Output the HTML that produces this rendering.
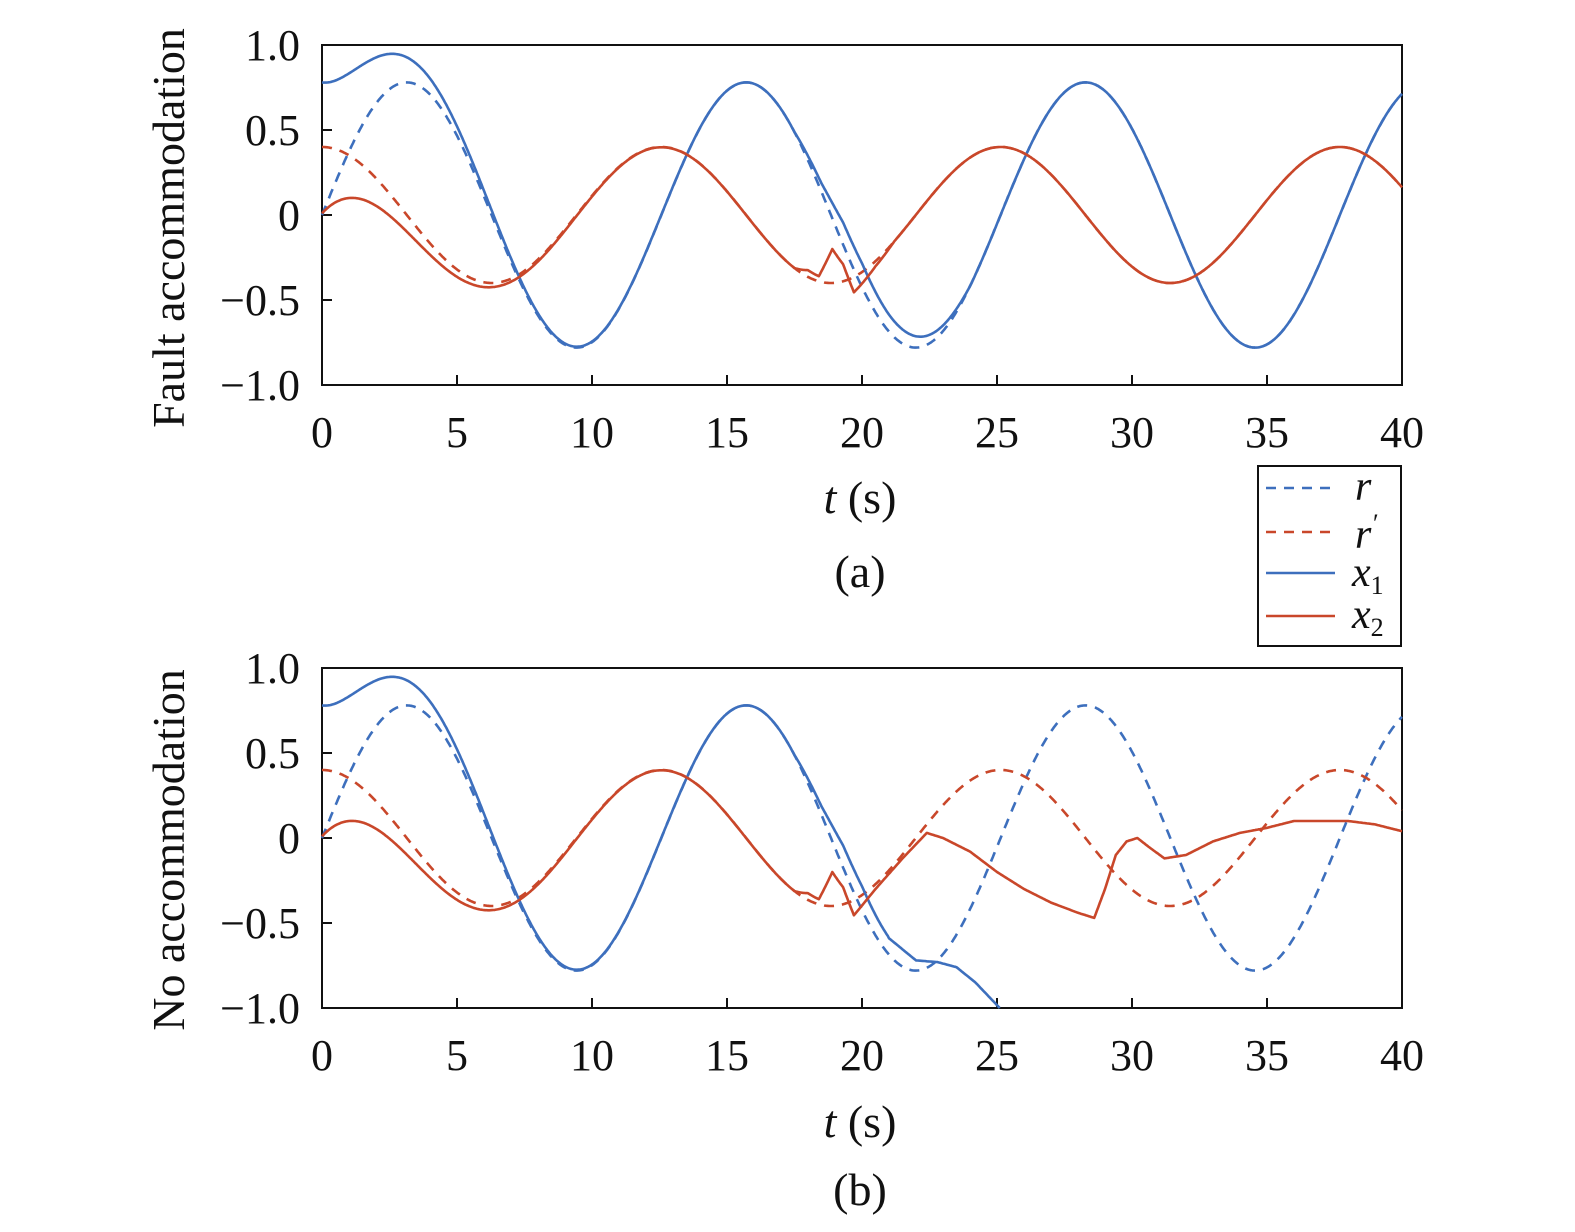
<!DOCTYPE html>
<html><head><meta charset="utf-8"><style>
html,body{margin:0;padding:0;background:#fff;}
svg{display:block;}
svg text{font-family:"Liberation Serif","Times New Roman",serif;fill:#111;}
</style></head><body>
<svg id="s" width="1575" height="1232" viewBox="0 0 1575 1232" xmlns="http://www.w3.org/2000/svg" font-family="Liberation Serif, serif">
<rect x="322" y="45" width="1080" height="340" fill="none" stroke="#111" stroke-width="2"/>
<rect x="322" y="668" width="1080" height="340" fill="none" stroke="#111" stroke-width="2"/>
<g id="ticks"></g>
<g id="curves"></g>
<g font-size="44">
<text x="300" y="60" text-anchor="end">1.0</text>
<text x="300" y="145" text-anchor="end">0.5</text>
<text x="300" y="230" text-anchor="end">0</text>
<text x="300" y="315" text-anchor="end">−0.5</text>
<text x="300" y="400" text-anchor="end">−1.0</text>
<text x="300" y="683" text-anchor="end">1.0</text>
<text x="300" y="768" text-anchor="end">0.5</text>
<text x="300" y="853" text-anchor="end">0</text>
<text x="300" y="938" text-anchor="end">−0.5</text>
<text x="300" y="1023" text-anchor="end">−1.0</text>
</g>
<g font-size="44" text-anchor="middle" id="xl"></g>
<g font-size="46" text-anchor="middle">
<text x="860" y="513"><tspan font-style="italic">t</tspan> (s)</text>
<text x="860" y="587">(a)</text>
<text x="860" y="1137"><tspan font-style="italic">t</tspan> (s)</text>
<text x="860" y="1205">(b)</text>
<text transform="translate(184,228) rotate(-90)">Fault accommodation</text>
<text transform="translate(184,850) rotate(-90)">No accommodation</text>
</g>
<rect x="1258" y="466" width="143" height="180" fill="#fff" stroke="#111" stroke-width="2"/>
<line x1="1266" y1="488" x2="1335" y2="488" stroke="#3d6fbd" stroke-width="2.5" stroke-dasharray="10,8"/>
<line x1="1266" y1="532" x2="1335" y2="532" stroke="#c9472a" stroke-width="2.5" stroke-dasharray="10,8"/>
<line x1="1266" y1="573" x2="1335" y2="573" stroke="#3d6fbd" stroke-width="2.5"/>
<line x1="1266" y1="616" x2="1335" y2="616" stroke="#c9472a" stroke-width="2.5"/>
<g font-size="42" font-style="italic">
<text x="1355" y="500">r</text>
<text x="1355" y="548">r<tspan font-size="26" dy="-16">′</tspan></text>
<text x="1352" y="586">x<tspan font-size="26" dy="8" font-style="normal">1</tspan></text>
<text x="1352" y="628">x<tspan font-size="26" dy="8" font-style="normal">2</tspan></text>
</g>
</svg>
<script>
var NS="http://www.w3.org/2000/svg";
function el(tag,a,p){var e=document.createElementNS(NS,tag);for(var k in a)e.setAttribute(k,a[k]);p.appendChild(e);return e;}
var tk=document.getElementById('ticks'),xl=document.getElementById('xl'),cv=document.getElementById('curves');
[[45,385],[668,1008]].forEach(function(b,i){
 for(var t=5;t<40;t+=5){var x=322+t*27;el('line',{x1:x,y1:b[1],x2:x,y2:b[1]-10,stroke:'#111','stroke-width':2},tk);}
 for(var v=-0.5;v<=0.5;v+=0.5){var y=(b[0]+b[1])/2-v*170;el('line',{x1:322,y1:y,x2:332,y2:y,stroke:'#111','stroke-width':2},tk);}
 for(var t=0;t<=40;t+=5){var tx=el('text',{x:322+t*27,y:b[1]+62},xl);tx.textContent=t;}
});
function lerp(k,t){if(t<=k[0][0])return k[0][1];for(var i=1;i<k.length;i++){if(t<=k[i][0]){var a=k[i-1],b=k[i];return a[1]+(b[1]-a[1])*(t-a[0])/(b[0]-a[0]);}}return k[k.length-1][1];}
var d1=[[17.5,0],[18.5,0.05],[19.3,0.13],[20,0.14],[21,0.1],[22.5,0.05],[24,0]];
var d2=[[17.5,0],[18.0,0.04],[18.4,0.03],[18.9,0.2],[19.3,0.1],[19.7,-0.09],[20.5,-0.03],[21.2,0]];
function r(t){return 0.78*Math.sin(0.5*t);}
function rp(t){return 0.4*Math.cos(0.5*t);}
function x1(t){return r(t)+0.78*Math.exp(-0.53*t)+lerp(d1,t);}
function x2(t){return rp(t)-0.39*Math.exp(-0.44*t)+lerp(d2,t);}
var b1=[[21,-0.59],[22,-0.72],[22.8,-0.73],[23.5,-0.76],[24.2,-0.85],[25.1,-1.0]];
var b2=[[19.7,-0.455],[20.5,-0.3],[21.5,-0.12],[22.4,0.03],[23,0.0],[24,-0.08],[25,-0.2],[26,-0.3],[27,-0.38],[28,-0.44],[28.6,-0.47],[29,-0.3],[29.4,-0.1],[29.8,-0.02],[30.2,0],[30.6,-0.05],[31.2,-0.12],[32,-0.1],[33,-0.02],[34,0.03],[35,0.06],[36,0.1],[37,0.1],[38,0.1],[39,0.08],[40,0.04]];
function path(f,y0,t0,t1,col,dash){var s='';for(var t=t0;t<=t1+1e-9;t+=0.05){var v=f(t);s+=(s?'L':'M')+(322+t*27).toFixed(1)+','+(y0-v*170).toFixed(1);}
 var a={d:s,fill:'none',stroke:col,'stroke-width':2.6,'stroke-linejoin':'round'};if(dash)a['stroke-dasharray']='10,8';el('path',a,cv);}
var B='#3d6fbd',R='#c9472a';
path(r,215,0,40,B,1);path(rp,215,0,40,R,1);path(x1,215,0,40,B);path(x2,215,0,40,R);
path(r,838,0,40,B,1);path(rp,838,0,40,R,1);
path(function(t){return t<21?x1(t):lerp(b1,t);},838,0,25.1,B);
path(function(t){return t<19.7?x2(t):lerp(b2,t);},838,0,40,R);
</script>
</body></html>
